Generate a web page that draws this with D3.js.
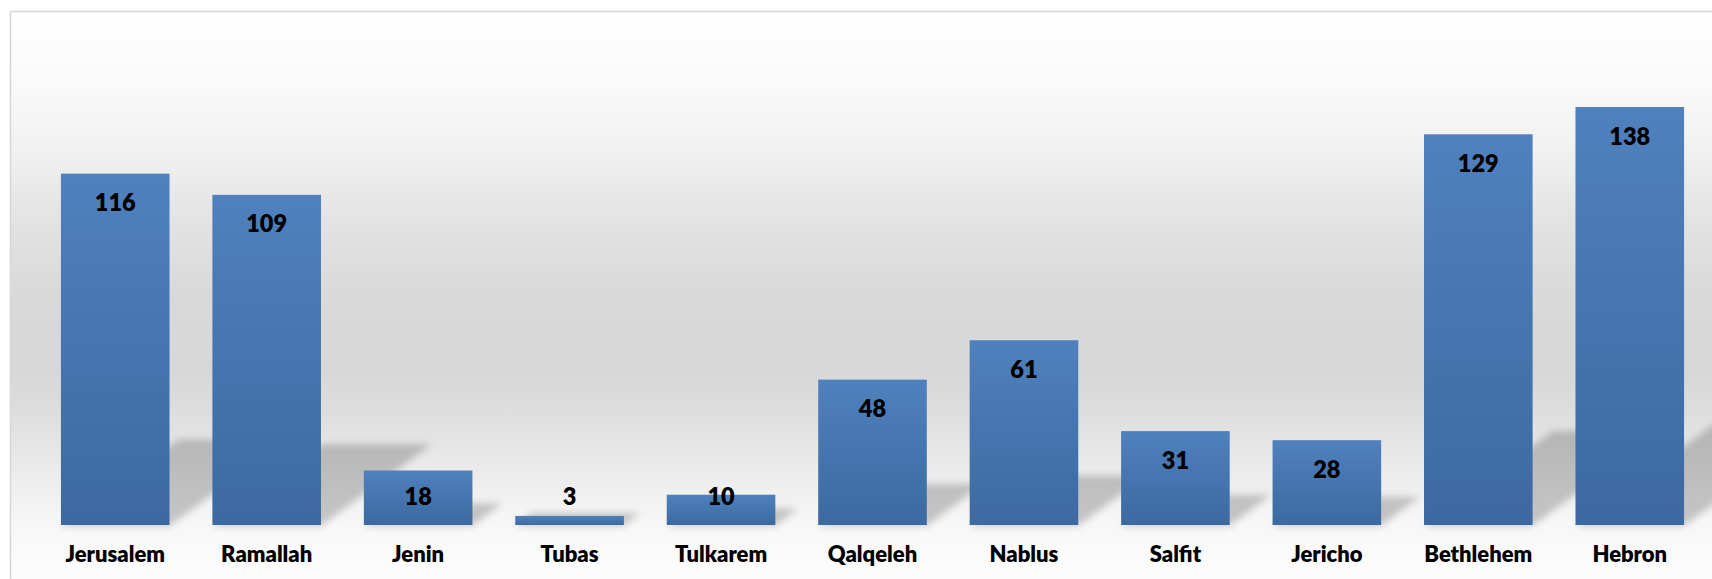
<!DOCTYPE html>
<html>
<head>
<meta charset="utf-8">
<script src="https://cdn.jsdelivr.net/npm/d3@7"></script>
<style>
  body { margin: 0; background: #fff; }
  svg { display: block; }
  .val, .cat { font-family: Lato, "Open Sans", sans-serif; font-weight: 800; fill: #000; }
</style>
</head>
<body>
<svg></svg>
<script>
// Data
const cities = ["Jerusalem", "Ramallah", "Jenin", "Tubas", "Tulkarem", "Qalqeleh",
  "Nablus", "Salfit", "Jericho", "Bethlehem", "Hebron"];
const counts = [116, 109, 18, 3, 10, 48, 61, 31, 28, 129, 138];

const width = 1712,
  height = 579;

const svg = d3.select("svg")
  .attr("width", width)
  .attr("height", height);

const defs = svg.append("defs");

// Chart area background: light on top, grey band in the middle, light again near the floor
const bg = defs.append("linearGradient")
  .attr("id", "bg")
  .attr("gradientUnits", "userSpaceOnUse")
  .attr("x1", 0).attr("y1", 12)
  .attr("x2", 0).attr("y2", 579);
[[12, "#ffffff"], [80, "#fafafa"], [150, "#f1f1f1"], [220, "#e3e3e3"], [295, "#d9d9d9"],
  [370, "#d7d7d7"], [410, "#dddddd"], [465, "#eaeaea"], [525, "#f7f7f7"], [579, "#fdfdfd"]]
  .forEach(s => bg.append("stop")
    .attr("offset", ((s[0] - 12) / (579 - 12)))
    .attr("stop-color", s[1]));

const barGrad = defs.append("linearGradient")
  .attr("id", "bar")
  .attr("x1", 0).attr("y1", 0)
  .attr("x2", 0).attr("y2", 1);
barGrad.append("stop").attr("offset", 0).attr("stop-color", "#4f81be");
barGrad.append("stop").attr("offset", 1).attr("stop-color", "#3c69a0");

defs.append("filter")
  .attr("id", "blur")
  .attr("x", "-20%").attr("y", "-20%")
  .attr("width", "140%").attr("height", "140%")
  .append("feGaussianBlur")
  .attr("stdDeviation", 3.5);

// frame
svg.append("rect")
  .attr("x", 10.5)
  .attr("y", 11.5)
  .attr("width", width + 20)
  .attr("height", height + 20)
  .attr("fill", "url(#bg)")
  .attr("stroke", "#d6d6d6")
  .attr("stroke-width", 1.5);

const x = d3.scaleBand()
  .domain(cities)
  .range([39.5, 1705.5])
  .paddingInner(0.283)
  .paddingOuter(0.1415);

const y = d3.scaleLinear()
  .domain([0, 160])
  .range([525, 40.4]);

const base = y(0);
const skew = 1.37;

// Perspective shadows cast up and to the right behind each bar
svg.append("g")
  .attr("filter", "url(#blur)")
  .selectAll("path")
  .data(cities)
  .join("path")
  .attr("fill", "#000")
  .attr("fill-opacity", 0.2)
  .attr("d", (c, i) => {
    const h = base - y(counts[i]);
    const hs = 0.215 * h + 10;
    const x0 = x(c), x1 = x(c) + x.bandwidth();
    return "M" + x0 + "," + (base + 1) +
      "L" + x1 + "," + (base + 1) +
      "L" + (x1 + skew * hs) + "," + (base - hs) +
      "L" + (x0 + skew * hs) + "," + (base - hs) + "Z";
  });

// bars
svg.append("g")
  .selectAll("rect")
  .data(cities)
  .join("rect")
  .attr("x", c => x(c))
  .attr("y", (c, i) => y(counts[i]))
  .attr("width", x.bandwidth())
  .attr("height", (c, i) => base - y(counts[i]))
  .attr("fill", "url(#bar)");

// value labels, inside the top of the bar, pushed up for short bars
svg.append("g")
  .selectAll("text")
  .data(cities)
  .join("text")
  .attr("class", "val")
  .attr("x", c => x(c) + x.bandwidth() / 2)
  .attr("y", (c, i) => Math.min(y(counts[i]) + 37.5, 505))
  .attr("text-anchor", "middle")
  .style("font-size", "23.5px")
  .text((c, i) => counts[i]);

// category labels
svg.append("g")
  .selectAll("text")
  .data(cities)
  .join("text")
  .attr("class", "cat")
  .attr("x", c => x(c) + x.bandwidth() / 2)
  .attr("y", 562)
  .attr("text-anchor", "middle")
  .style("font-size", "22px")
  .text(c => c);
</script>
</body>
</html>
